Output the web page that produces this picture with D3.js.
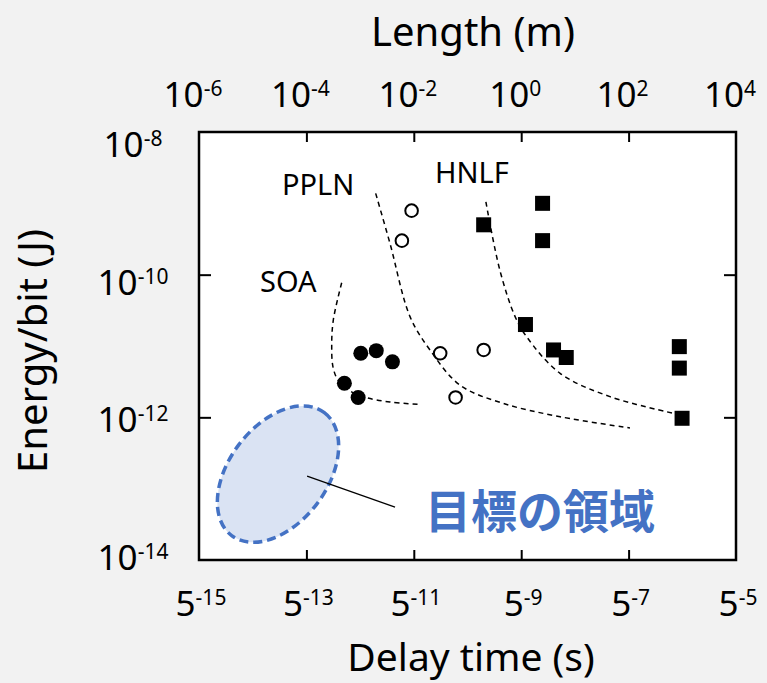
<!DOCTYPE html>
<html>
<head>
<meta charset="utf-8">
<script src="https://cdn.jsdelivr.net/npm/d3@7"></script>
<style>
  body { margin: 0; background: #f2f2f2; }
  svg { display: block; font-family: "Noto Sans", "Open Sans", sans-serif; }
</style>
</head>
<body>
<div id="chart"></div>
<script>

// marker data (delay time in s, energy per bit in J)
const soaDelay   = [1.03e-12, 2.0e-12, 4.0e-12, 5.1e-13, 9.2e-13];
const soaEnergy  = [7.9e-12, 8.6e-12, 6.0e-12, 3.0e-12, 1.9e-12];

const pplnDelay  = [9.1e-12, 6.0e-12, 3.1e-11, 6.0e-11, 2.0e-10];
const pplnEnergy = [7.9e-10, 3.0e-10, 7.9e-12, 1.9e-12, 8.8e-12];

const hnlfDelay  = [2.0e-10, 2.5e-9, 2.5e-9, 1.2e-9, 4.0e-9, 6.9e-9, 8.8e-7, 8.8e-7, 9.9e-7];
const hnlfEnergy = [5.0e-10, 1.0e-9, 3.0e-10, 2.0e-11, 8.8e-12, 6.9e-12, 9.8e-12, 4.9e-12, 9.7e-13];

// dashed guide curves
const soaCurveDelay   = [4.54e-13, 3.17e-13, 2.96e-13, 3.13e-13, 3.87e-13, 6.49e-13, 1.33e-12, 3.6e-12, 1.21e-11];
const soaCurveEnergy  = [7.7e-11, 2.31e-11, 1.03e-11, 5.07e-12, 3.34e-12, 2.34e-12, 1.88e-12, 1.64e-12, 1.52e-12];
const pplnCurveDelay  = [1.95e-12, 3.6e-12, 8.5e-12, 2.0e-11, 7.2e-11, 4.6e-10, 5.3e-9, 1.06e-7];
const pplnCurveEnergy = [1.38e-9, 2.75e-10, 2.58e-11, 8.8e-12, 2.84e-12, 1.57e-12, 1.02e-12, 7.1e-13];
const hnlfCurveDelay  = [2.2e-10, 4.0e-10, 7.7e-10, 1.26e-9, 5.3e-9, 4.5e-8, 6.8e-7];
const hnlfCurveEnergy = [1.05e-9, 1.16e-10, 2.58e-11, 1.35e-11, 4.14e-12, 1.95e-12, 1.14e-12];

// target region (centre) and its leader line
const targetCenter = [2.96e-14, 1.6e-13];
const leaderDelay  = [1.03e-13, 4.47e-12];
const leaderEnergy = [1.5e-13, 5.5e-14];

// tick labels
const bottomTicks = [1e-15, 1e-13, 1e-11, 1e-9, 1e-7, 1e-5];
const bottomExp   = ["-15", "-13", "-11", "-9", "-7", "-5"];
const topTicks    = [1e-6, 1e-4, 1e-2, 1e0, 1e2, 1e4];
const topExp      = ["-6", "-4", "-2", "0", "2", "4"];
const leftTicks   = [1e-8, 1e-10, 1e-12, 1e-14];
const leftExp     = ["-8", "-10", "-12", "-14"];

const W = 767, H = 683;
const pLeft = 199, pRight = 736, pTop = 132, pBottom = 560;

const x = d3.scaleLog().domain([1e-15, 1e-5]).range([pLeft, pRight]);
const xTop = d3.scaleLog().domain([1e-6, 1e4]).range([pLeft, pRight]);
const y = d3.scaleLog().domain([1e-8, 1e-14]).range([pTop, pBottom]);
// the hand placed y labels drift a little from the ticks
const yLabel = d3.scaleLog().domain([1e-8, 1e-14]).range([157, 570]);

const svg = d3.select("#chart").append("svg")
  .attr("width", W)
  .attr("height", H);

svg.append("rect")
  .attr("x", pLeft).attr("y", pTop)
  .attr("width", pRight - pLeft).attr("height", pBottom - pTop)
  .attr("fill", "#fff");

// inner ticks
function ticks(g) {
  g.select(".domain").remove();
  g.selectAll(".tick line").attr("stroke", "#000").attr("stroke-width", 2);
}
svg.append("g")
  .attr("transform", `translate(0,${pBottom})`)
  .call(d3.axisBottom(x).tickValues([1e-13, 1e-11, 1e-9, 1e-7]).tickSize(-10).tickFormat(""))
  .call(ticks);
svg.append("g")
  .attr("transform", `translate(0,${pTop})`)
  .call(d3.axisTop(xTop).tickValues([1e-4, 1e-2, 1e0, 1e2]).tickSize(-10).tickFormat(""))
  .call(ticks);
svg.append("g")
  .attr("transform", `translate(${pLeft},0)`)
  .call(d3.axisLeft(y).tickValues([1e-10, 1e-12]).tickSize(-12).tickFormat(""))
  .call(ticks);
svg.append("g")
  .attr("transform", `translate(${pRight},0)`)
  .call(d3.axisRight(y).tickValues([1e-10, 1e-12]).tickSize(-12).tickFormat(""))
  .call(ticks);

svg.append("rect")
  .attr("x", pLeft).attr("y", pTop)
  .attr("width", pRight - pLeft).attr("height", pBottom - pTop)
  .attr("fill", "none")
  .attr("stroke", "#000")
  .attr("stroke-width", 2.5);

// power-of-ten style labels
function powLabel(sel, base, exp) {
  sel.append("tspan").text(base);
  sel.append("tspan").attr("font-size", 21).attr("dy", -11).text(exp);
}

bottomTicks.forEach((v, i) => {
  const t = svg.append("text")
    .attr("x", x(v) + 2).attr("y", 616)
    .attr("text-anchor", "middle")
    .attr("font-size", 35)
    .attr("fill", "#000");
  powLabel(t, "5", bottomExp[i]);
});
topTicks.forEach((v, i) => {
  const t = svg.append("text")
    .attr("x", xTop(v) - 6).attr("y", 107)
    .attr("text-anchor", "middle")
    .attr("font-size", 35)
    .attr("fill", "#000");
  powLabel(t, "10", topExp[i]);
});
leftTicks.forEach((v, i) => {
  const t = svg.append("text")
    .attr("x", 133).attr("y", yLabel(v))
    .attr("text-anchor", "middle")
    .attr("font-size", 35)
    .attr("fill", "#000");
  powLabel(t, "10", leftExp[i]);
});

// axis titles
svg.append("text")
  .attr("x", 473).attr("y", 46)
  .attr("text-anchor", "middle")
  .attr("font-size", 40)
  .text("Length (m)");
svg.append("text")
  .attr("x", 471).attr("y", 671)
  .attr("text-anchor", "middle")
  .attr("font-size", 39)
  .text("Delay time (s)");
svg.append("text")
  .attr("transform", "translate(47,351) rotate(-90)")
  .attr("text-anchor", "middle")
  .attr("font-size", 40)
  .text("Energy/bit (J)");

// target region
const [cx, cy] = [x(targetCenter[0]), y(targetCenter[1])];
svg.append("ellipse")
  .attr("cx", cx).attr("cy", cy)
  .attr("rx", 77).attr("ry", 49)
  .attr("transform", `rotate(-53,${cx},${cy})`)
  .attr("fill", "#dae3f3")
  .attr("stroke", "#4472c4")
  .attr("stroke-width", 3.5)
  .attr("stroke-dasharray", "9,5");

svg.append("line")
  .attr("x1", x(leaderDelay[0])).attr("y1", y(leaderEnergy[0]))
  .attr("x2", x(leaderDelay[1])).attr("y2", y(leaderEnergy[1]))
  .attr("stroke", "#000")
  .attr("stroke-width", 1.3);

svg.append("text")
  .attr("x", 425).attr("y", 528)
  .attr("font-family", '"Noto Sans CJK JP", sans-serif')
  .attr("font-weight", "bold")
  .attr("font-size", 46)
  .attr("fill", "#4472c4")
  .text("目標の領域");

// dashed curves
const line = d3.line()
  .x(d => x(d[0]))
  .y(d => y(d[1]))
  .curve(d3.curveCatmullRom);

[[soaCurveDelay, soaCurveEnergy], [pplnCurveDelay, pplnCurveEnergy], [hnlfCurveDelay, hnlfCurveEnergy]]
  .forEach(([xs, ys]) => {
    svg.append("path")
      .attr("d", line(xs.map((v, i) => [v, ys[i]])))
      .attr("fill", "none")
      .attr("stroke", "#000")
      .attr("stroke-width", 1.5)
      .attr("stroke-dasharray", "5,4");
  });

// markers
svg.append("g").selectAll("circle").data(soaDelay).enter()
  .append("circle")
  .attr("cx", d => x(d))
  .attr("cy", (d, i) => y(soaEnergy[i]))
  .attr("r", 7.5)
  .attr("fill", "#000");

svg.append("g").selectAll("circle").data(pplnDelay).enter()
  .append("circle")
  .attr("cx", d => x(d))
  .attr("cy", (d, i) => y(pplnEnergy[i]))
  .attr("r", 6.3)
  .attr("fill", "#fff")
  .attr("stroke", "#000")
  .attr("stroke-width", 2);

svg.append("g").selectAll("rect").data(hnlfDelay).enter()
  .append("rect")
  .attr("x", d => x(d) - 7.5)
  .attr("y", (d, i) => y(hnlfEnergy[i]) - 7.5)
  .attr("width", 15)
  .attr("height", 15)
  .attr("fill", "#000");

// series labels
svg.append("text").attr("x", 282).attr("y", 195).attr("font-size", 29).text("PPLN");
svg.append("text").attr("x", 435).attr("y", 183).attr("font-size", 29).text("HNLF");
svg.append("text").attr("x", 260).attr("y", 292).attr("font-size", 29).text("SOA");

</script>
</body>
</html>
